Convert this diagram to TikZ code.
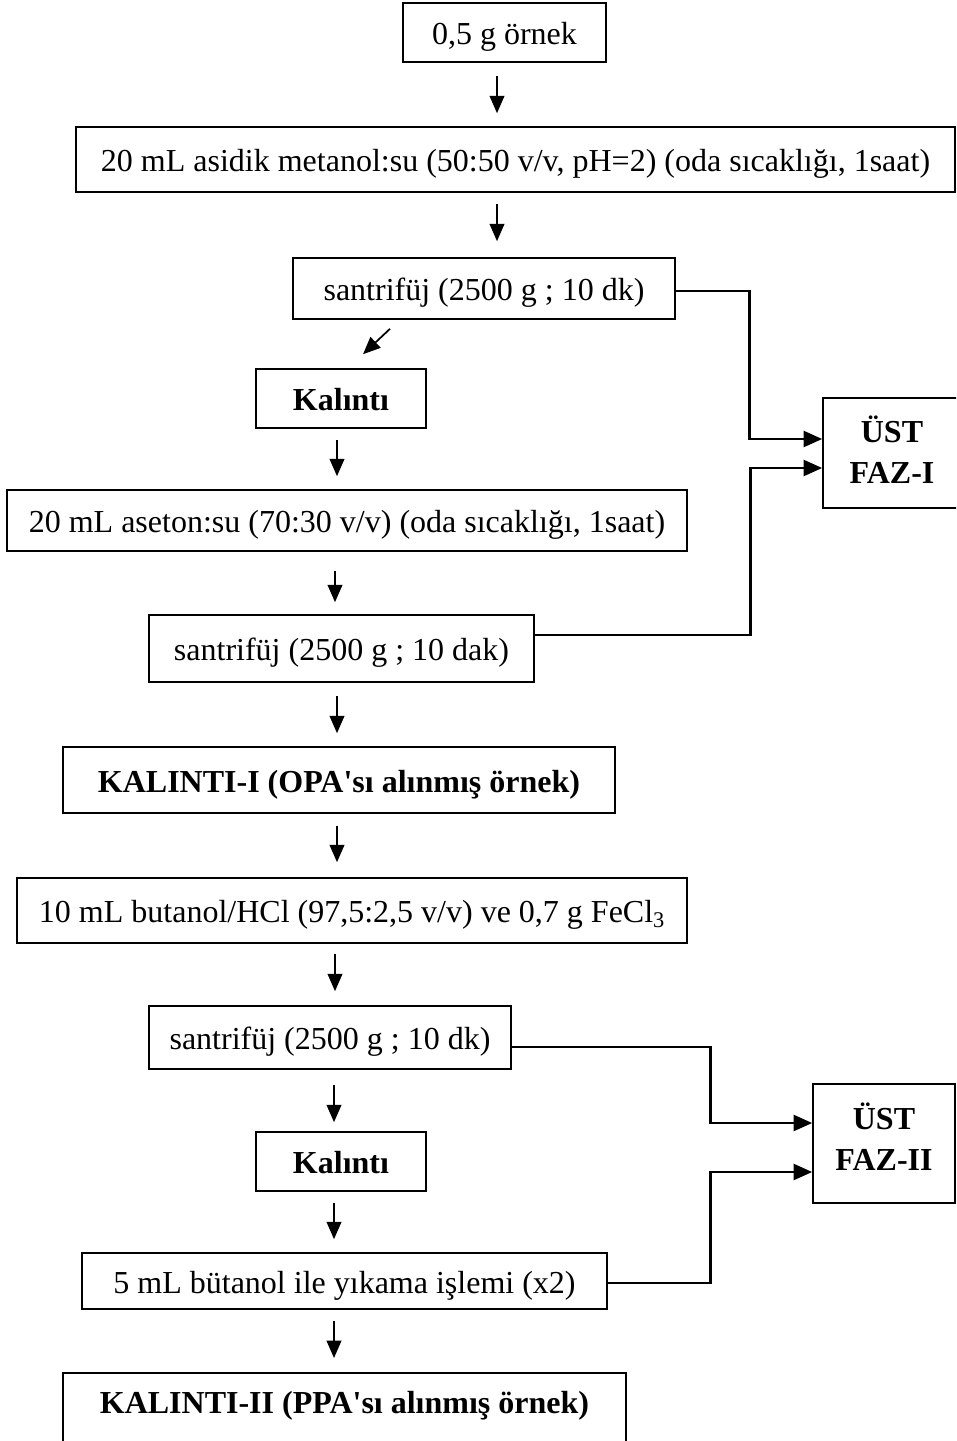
\documentclass[tikz,border=0pt]{standalone}
\usepackage{fontspec}
\setmainfont{Liberation Serif}
\usetikzlibrary{arrows.meta,calc}
\def\pxu{0.75pt}
\tikzset{
  box/.style={draw, line width=1.2pt, inner sep=0pt, align=center, text height=23pt, text depth=5pt, font=\fontsize{24}{31}\selectfont},
  bbox/.style={box, font=\fontsize{24}{31}\selectfont\bfseries},
  fazbox/.style={draw, line width=1.2pt, inner sep=0pt, align=center, font=\fontsize{24}{30.5}\selectfont\bfseries},
  varr/.style={line width=1.3pt, -{Triangle[length=13pt,width=11pt]}},
  conn/.style={line width=2pt, -{Triangle[length=14pt,width=12pt]}},
}
\begin{document}
\begin{tikzpicture}[x=0.75pt,y=-0.75pt]
\useasboundingbox (0,0) rectangle (956,1441);
\clip (0,0) rectangle (956,1441);
\coordinate (colA) at (497,0);
\coordinate (colB) at (337,0);
\coordinate (colC) at (335,0);
\coordinate (colD) at (334,0);

\node[box, minimum width=203*\pxu, minimum height=59*\pxu] (b1) at (504.5,32.5) {0,5 g örnek};
\node[box, minimum width=879*\pxu, minimum height=65*\pxu] (b2) at (515.5,159.5) {20 mL asidik metanol:su (50:50 v/v, pH=2) (oda sıcaklığı, 1saat)};
\node[box, minimum width=382*\pxu, minimum height=61*\pxu] (b3) at (484,288.5) {santrifüj (2500 g ; 10 dk)};
\node[bbox, minimum width=170*\pxu, minimum height=59*\pxu] (k1) at (341,398.5) {Kalıntı};
\node[fazbox, text depth=4.5pt, minimum width=138*\pxu, minimum height=110*\pxu] (f1) at (892,453) {ÜST\\FAZ-I};
\node[box, minimum width=680*\pxu, minimum height=61*\pxu] (b4) at (347,520.5) {20 mL aseton:su (70:30 v/v) (oda sıcaklığı, 1saat)};
\node[box, minimum width=385*\pxu, minimum height=67*\pxu] (b5) at (341.5,648.5) {santrifüj (2500 g ; 10 dak)};
\node[bbox, minimum width=552*\pxu, minimum height=66*\pxu] (b6) at (339,780) {KALINTI-I (OPA\textquotesingle sı alınmış örnek)};
\node[box, minimum width=670*\pxu, minimum height=65*\pxu] (b7) at (352,910.5) {10 mL butanol/HCl (97,5:2,5 v/v) ve 0,7 g FeCl\textsubscript{3}};
\node[box, minimum width=362*\pxu, minimum height=63*\pxu] (b8) at (330,1037.5) {santrifüj (2500 g ; 10 dk)};
\node[bbox, minimum width=170*\pxu, minimum height=59*\pxu] (k2) at (341,1161.5) {Kalıntı};
\node[fazbox, text depth=10.5pt, minimum width=142*\pxu, minimum height=119*\pxu] (f2) at (884,1143.5) {ÜST\\FAZ-II};
\node[box, minimum width=525*\pxu, minimum height=56*\pxu] (b9) at (344.5,1281) {5 mL bütanol ile yıkama işlemi (x2)};
\node[draw, line width=1.2pt, inner sep=0pt, minimum width=563*\pxu, minimum height=100*\pxu, anchor=north] (b10) at (344.5,1372) {};
\node[font=\fontsize{24}{31}\selectfont\bfseries, inner sep=0pt, text height=23pt, text depth=5pt] (t10) at (344.5,1401) {KALINTI-II (PPA\textquotesingle sı alınmış örnek)};

% vertical arrows
\draw[varr] ($(b1.south -| colA)+(0,13)$) -- ($(b2.north -| colA)+(0,-13)$);
\draw[varr] ($(b2.south -| colA)+(0,11)$) -- ($(b3.north -| colA)+(0,-16)$);
\draw[varr] ($(b3.south)+(-94,9)$) -- ($(k1.north)+(22,-14)$);
\draw[varr] ($(k1.south -| colB)+(0,11)$) -- ($(b4.north -| colB)+(0,-13)$);
\draw[varr] ($(b4.south -| colC)+(0,19)$) -- ($(b5.north -| colC)+(0,-12)$);
\draw[varr] ($(b5.south -| colB)+(0,13)$) -- ($(b6.north -| colB)+(0,-13)$);
\draw[varr] ($(b6.south -| colB)+(0,12)$) -- ($(b7.north -| colB)+(0,-15)$);
\draw[varr] ($(b7.south -| colC)+(0,10)$) -- ($(b8.north -| colC)+(0,-14)$);
\draw[varr] ($(b8.south -| colD)+(0,15)$) -- ($(k2.north -| colD)+(0,-9)$);
\draw[varr] ($(k2.south -| colD)+(0,11)$) -- ($(b9.north -| colD)+(0,-13)$);
\draw[varr] ($(b9.south -| colD)+(0,11)$) -- ($(b10.north -| colD)+(0,-14)$);

% elbow connectors
\draw[conn] ($(b3.east)+(0,2.5)$) -- ++(74,0) |- ($(f1.west)+(0,-14)$);
\draw[conn] ($(b5.east)+(0,-13.5)$) -- ++(216,0) |- ($(f1.west)+(0,15)$);
\draw[conn] ($(b8.east)+(0,9.5)$) -- ++(199,0) |- ($(f2.west)+(0,-20.5)$);
\draw[conn] ($(b9.east)+(0,2)$) -- ++(103,0) |- ($(f2.west)+(0,28.5)$);
\end{tikzpicture}
\end{document}
